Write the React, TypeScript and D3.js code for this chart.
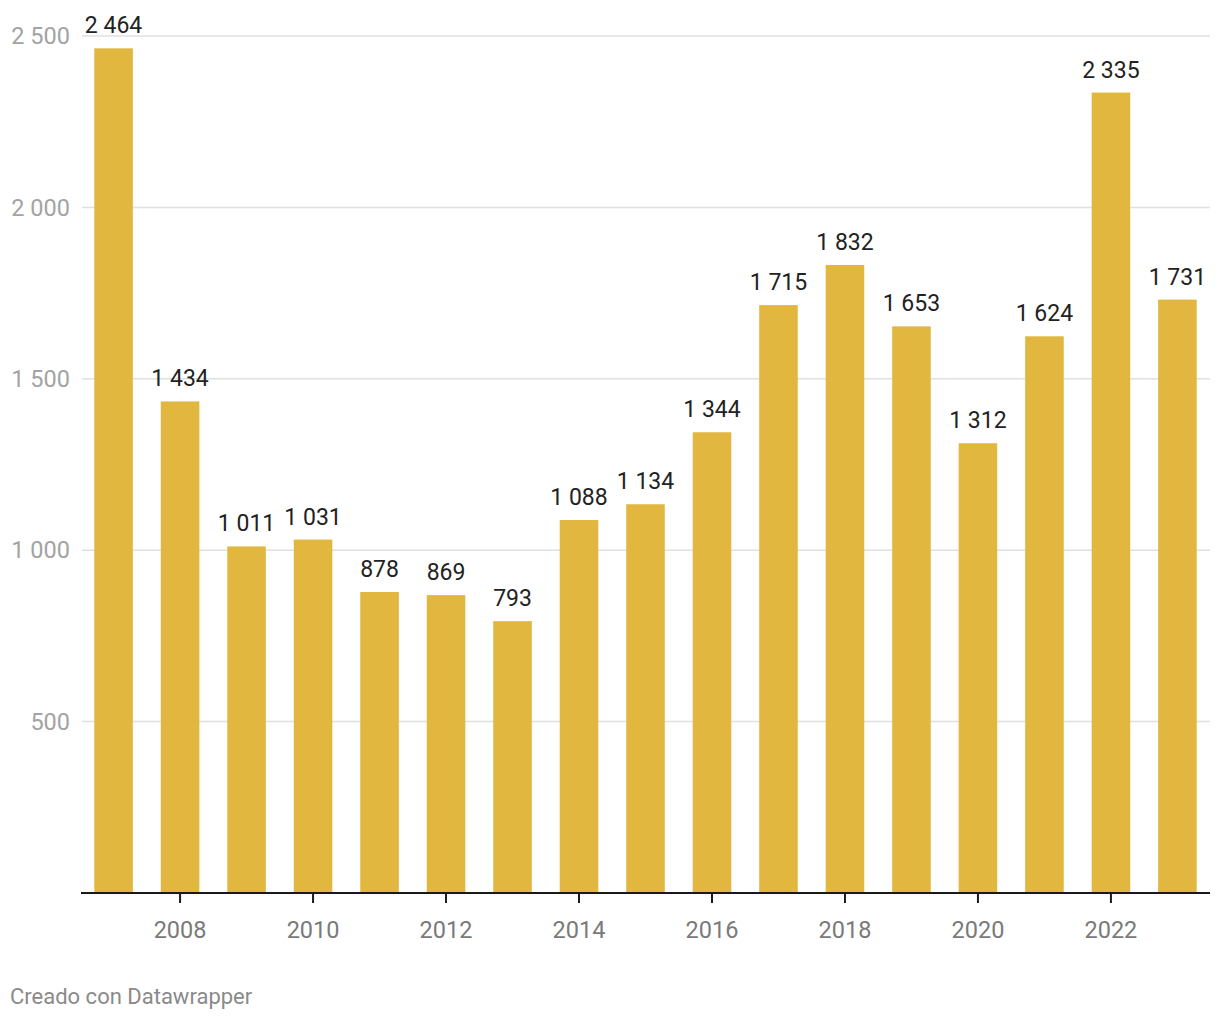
import React from "react";
import * as d3 from "d3";

const years = [2007, 2008, 2009, 2010, 2011, 2012, 2013, 2014, 2015, 2016, 2017, 2018, 2019, 2020, 2021, 2022, 2023];
const values = [2464, 1434, 1011, 1031, 878, 869, 793, 1088, 1134, 1344, 1715, 1832, 1653, 1312, 1624, 2335, 1731];
const yTicks = [500, 1000, 1500, 2000, 2500];
const xTickYears = [2008, 2010, 2012, 2014, 2016, 2018, 2020, 2022];

const W = 1220;
const H = 1020;
const left = 81;
const right = 1210;
const top = 36;
const bottom = 893;
const FONT = "Roboto, 'Noto Sans', sans-serif";

const locale = d3.formatLocale({ decimal: ",", thousands: " ", grouping: [3], currency: ["", "€"] });
const fmt = locale.format(",d");

export default function App() {
  const x = d3
    .scaleBand<number>()
    .domain(years)
    .range([left, right])
    .paddingInner(0.42)
    .paddingOuter(0.2);
  const y = d3.scaleLinear().domain([0, 2500]).range([bottom, top]);
  const bw = x.bandwidth();

  return (
    <svg
      width={W}
      height={H}
      style={{ position: "absolute", left: 0, top: 0, background: "#fff" }}
      fontFamily={FONT}
    >
      {yTicks.map((t) => (
        <g key={t}>
          <line x1={left + 1} x2={right} y1={y(t)} y2={y(t)} stroke="#e0e0e0" strokeWidth={1.5} />
          <text x={70} y={y(t)} dy="0.35em" textAnchor="end" fontSize={23.5} fill="#a3a3a3">
            {fmt(t)}
          </text>
        </g>
      ))}
      {years.map((yr, i) => (
        <g key={yr}>
          <rect x={x(yr)!} y={y(values[i])} width={bw} height={bottom - y(values[i])} fill="#e1b73f" />
          <text
            x={x(yr)! + bw / 2}
            y={y(values[i]) - 15}
            textAnchor="middle"
            fontSize={23}
            fill="#222"
          >
            {fmt(values[i])}
          </text>
        </g>
      ))}
      <line x1={left} x2={right} y1={bottom} y2={bottom} stroke="#1a1a1a" strokeWidth={2} />
      {xTickYears.map((yr) => (
        <g key={yr}>
          <line
            x1={x(yr)! + bw / 2}
            x2={x(yr)! + bw / 2}
            y1={bottom}
            y2={bottom + 10}
            stroke="#1a1a1a"
            strokeWidth={2}
          />
          <text x={x(yr)! + bw / 2} y={938} textAnchor="middle" fontSize={23.5} fill="#7a7a7a">
            {yr}
          </text>
        </g>
      ))}
      <text x={10} y={1004} fontSize={22} fill="#8a8a8a">
        Creado con Datawrapper
      </text>
    </svg>
  );
}
